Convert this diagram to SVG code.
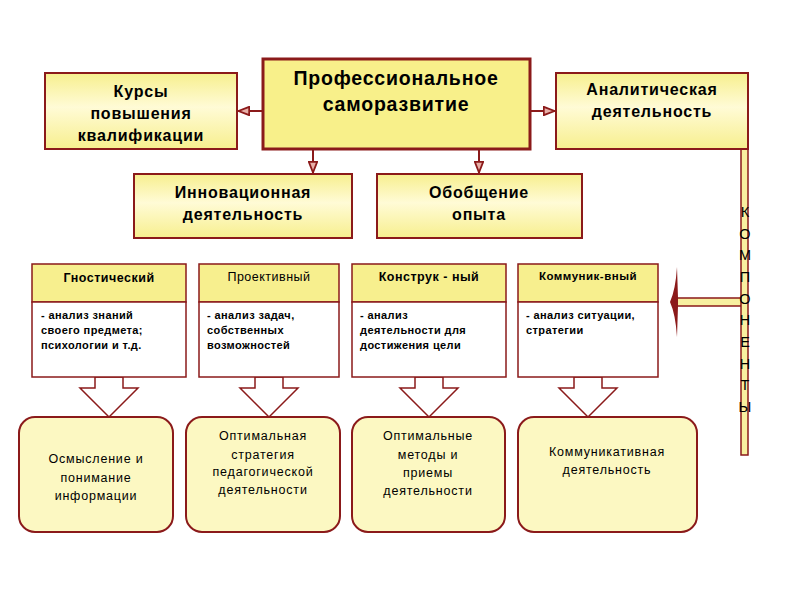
<svg xmlns="http://www.w3.org/2000/svg" width="800" height="600" viewBox="0 0 800 600">
<defs>
<linearGradient id="gy" x1="0" y1="0" x2="0" y2="1">
<stop offset="0" stop-color="#f7ef8e"/>
<stop offset="0.45" stop-color="#fffbd6"/>
<stop offset="1" stop-color="#f7ef8e"/>
</linearGradient>
<marker id="ah" viewBox="0 0 12 10" refX="12" refY="5" markerWidth="12" markerHeight="10" markerUnits="userSpaceOnUse" orient="auto">
<path d="M0.8,0.8 L11.5,5 L0.8,9.2 Z" fill="#e8b0a8" stroke="#8b1a1a" stroke-width="1.8"/>
</marker>
<style>
.bx{fill:url(#gy);stroke:#8b1a1a;stroke-width:2}
.main{fill:#f8f08a;stroke:#8b1a1a;stroke-width:3}
.hd{fill:#f7ef8e;stroke:#8b1a1a;stroke-width:1.5}
.bd{fill:#ffffff;stroke:#8b1a1a;stroke-width:1.5}
.rb{fill:#fcf8c2;stroke:#8b1a1a;stroke-width:2}
.ln{stroke:#8b1a1a;stroke-width:2;fill:none}
.ba{fill:#ffffff;stroke:#8b1a1a;stroke-width:1.5}
text{font-family:"Liberation Sans",Arial,sans-serif;fill:#000}
.t1{font-size:19.5px;font-weight:bold;text-anchor:middle;letter-spacing:0.8px}
.t2{font-size:16px;font-weight:bold;text-anchor:middle;letter-spacing:0.8px}
.t3{font-size:12.5px;font-weight:bold;text-anchor:middle;letter-spacing:0.5px}
.t4{font-size:11px;font-weight:bold;letter-spacing:0.4px}
.t5{font-size:12.5px;text-anchor:middle;letter-spacing:0.8px}
.t6{font-size:14.5px;text-anchor:middle}
</style>
</defs>
<rect width="800" height="600" fill="#ffffff"/>

<g id="connectors">
<line class="ln" x1="263" y1="111" x2="238" y2="111" marker-end="url(#ah)"/>
<line class="ln" x1="530" y1="111" x2="555" y2="111" marker-end="url(#ah)"/>
<line class="ln" x1="313" y1="149" x2="313" y2="173" marker-end="url(#ah)"/>
<line class="ln" x1="479" y1="149" x2="479" y2="173" marker-end="url(#ah)"/>
<polygon class="ba" points="95,377 123,377 123,388 138,388 109,417 80,388 95,388"/>
<polygon class="ba" points="255,377 283,377 283,388 298,388 269,417 240,388 255,388"/>
<polygon class="ba" points="415,377 443,377 443,388 458,388 429,417 400,388 415,388"/>
<polygon class="ba" points="574,377 602,377 602,388 617,388 588,417 559,388 574,388"/>
<rect x="677" y="298" width="65" height="8" fill="#f8f0a0" stroke="#8b1a1a" stroke-width="1.5"/>
<path d="M677,267 Q675.5,290 670,302 Q675.5,314 677,337 L678,306 L678,298 Z" fill="#8b1a1a"/>
</g>

<g id="components-bar">
<rect x="741" y="149" width="7" height="306" fill="#f8f0a0" stroke="#8b1a1a" stroke-width="1.5"/>
<text class="t6" x="745" y="217">К</text>
<text class="t6" x="745" y="238.7">О</text>
<text class="t6" x="745" y="260.3">М</text>
<text class="t6" x="745" y="282">П</text>
<text class="t6" x="745" y="303.7">О</text>
<text class="t6" x="745" y="325.3">Н</text>
<text class="t6" x="745" y="347">Е</text>
<text class="t6" x="745" y="368.7">Н</text>
<text class="t6" x="745" y="390.3">Т</text>
<text class="t6" x="745" y="412">Ы</text>
</g>

<g id="n-main">
<rect class="main" x="263" y="59" width="267" height="90"/>
<text class="t1" x="396" y="85">Профессиональное</text>
<text class="t1" x="396" y="111">саморазвитие</text>
</g>

<g id="n-kursy">
<rect class="bx" x="45" y="73" width="192" height="76"/>
<text class="t2" x="141" y="97">Курсы</text>
<text class="t2" x="141" y="119">повышения</text>
<text class="t2" x="141" y="141">квалификации</text>
</g>

<g id="n-analit">
<rect class="bx" x="556" y="73" width="192" height="76"/>
<text class="t2" x="652" y="95">Аналитическая</text>
<text class="t2" x="652" y="117">деятельность</text>
</g>

<g id="n-innov">
<rect class="bx" x="134" y="174" width="218" height="64"/>
<text class="t2" x="243" y="198">Инновационная</text>
<text class="t2" x="243" y="220">деятельность</text>
</g>

<g id="n-obob">
<rect class="bx" x="377" y="174" width="205" height="64"/>
<text class="t2" x="479" y="198">Обобщение</text>
<text class="t2" x="479" y="220">опыта</text>
</g>

<g id="n-gnost">
<rect class="hd" x="32" y="264" width="154" height="38"/>
<rect class="bd" x="32" y="302" width="154" height="75"/>
<text class="t3" x="109" y="282">Гностический</text>
<text class="t4" x="41" y="319">- анализ знаний</text>
<text class="t4" x="41" y="334">своего предмета;</text>
<text class="t4" x="41" y="349">психологии и т.д.</text>
</g>

<g id="n-proekt">
<rect class="hd" x="199" y="264" width="140" height="38"/>
<rect class="bd" x="199" y="302" width="140" height="75"/>
<text class="t3" x="269" y="281" style="font-weight:normal">Проективный</text>
<text class="t4" x="207" y="319">- анализ задач,</text>
<text class="t4" x="207" y="334">собственных</text>
<text class="t4" x="207" y="349">возможностей</text>
</g>

<g id="n-konstr">
<rect class="hd" x="352" y="264" width="154" height="38"/>
<rect class="bd" x="352" y="302" width="154" height="75"/>
<text class="t3" x="429" y="281">Конструк - ный</text>
<text class="t4" x="360" y="319">- анализ</text>
<text class="t4" x="360" y="334">деятельности для</text>
<text class="t4" x="360" y="349">достижения цели</text>
</g>

<g id="n-kommun">
<rect class="hd" x="518" y="264" width="140" height="38"/>
<rect class="bd" x="518" y="302" width="140" height="75"/>
<text class="t3" x="588" y="280" style="font-size:11.5px">Коммуник-вный</text>
<text class="t4" x="526" y="319">- анализ ситуации,</text>
<text class="t4" x="526" y="334">стратегии</text>
</g>

<g id="n-osmysl">
<rect class="rb" x="19" y="417" width="154" height="115" rx="16" ry="16"/>
<text class="t5" x="96" y="463">Осмысление и</text>
<text class="t5" x="96" y="482">понимание</text>
<text class="t5" x="96" y="500">информации</text>
</g>

<g id="n-strat">
<rect class="rb" x="186" y="417" width="154" height="115" rx="16" ry="16"/>
<text class="t5" x="263" y="440">Оптимальная</text>
<text class="t5" x="263" y="459">стратегия</text>
<text class="t5" x="263" y="476">педагогической</text>
<text class="t5" x="263" y="494">деятельности</text>
</g>

<g id="n-metody">
<rect class="rb" x="352" y="417" width="153" height="115" rx="16" ry="16"/>
<text class="t5" x="428" y="440">Оптимальные</text>
<text class="t5" x="428" y="459">методы и</text>
<text class="t5" x="428" y="477">приемы</text>
<text class="t5" x="428" y="495">деятельности</text>
</g>

<g id="n-kommdeyat">
<rect class="rb" x="518" y="417" width="179" height="115" rx="16" ry="16"/>
<text class="t5" x="607" y="456">Коммуникативная</text>
<text class="t5" x="607" y="474">деятельность</text>
</g>
</svg>
